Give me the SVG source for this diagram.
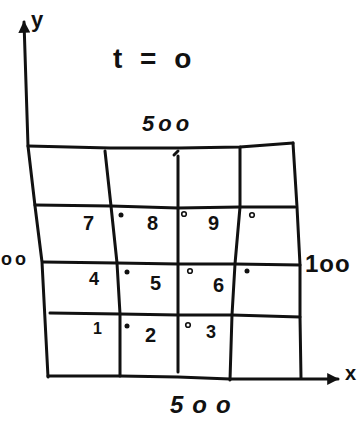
<svg xmlns="http://www.w3.org/2000/svg" width="363" height="423" viewBox="0 0 363 423">
<style>
.ln{fill:none;stroke:#111;stroke-width:3;stroke-linecap:round;stroke-linejoin:round}
.t{font-family:"Liberation Sans",Arial,sans-serif;fill:#111;font-weight:bold}
.dot{fill:#111}
.od{fill:none;stroke:#111;stroke-width:1.6}
</style>
<defs>
<marker id="ah" viewBox="0 0 10 10" refX="9" refY="5" markerWidth="4" markerHeight="4" orient="auto" markerUnits="strokeWidth">
<path d="M0,0 L10,5 L0,10 z" fill="#111"/>
</marker>
</defs>
<rect width="363" height="423" fill="#fff"/>
<g id="axes">
<path class="ln" d="M48,377 L42,262 L35,206 L28,146 L24,22" marker-end="url(#ah)"/>
<path class="ln" d="M48,376 L120,376 L178,377 L230,379 L300,379 L338,379" marker-end="url(#ah)"/>
</g>
<g id="grid">
<path class="ln" d="M28,146 L110,148 L180,148 L240,147 L293,143"/>
<path class="ln" d="M35,205 L111,206 L178,208 L240,207 L295,207"/>
<path class="ln" d="M43,262 L117,263 L178,264 L235,264 L300,265"/>
<path class="ln" d="M50,313 L120,314 L178,315 L232,315 L300,317"/>
<path class="ln" d="M293,143 L297,207 L300,265 L300,317 L301,378"/>
<path class="ln" d="M105,151 L111,206 L117,263 L120,314 L120,376"/>
<path class="ln" d="M178,156 L178,208 L178,264 L178,315 L178,372"/>
<path class="ln" d="M174,155 L178,151"/>
<path class="ln" d="M240,147 L240,207 L235,264 L232,315 L230,380"/>
</g>
<g id="labels">
<text class="t" x="31" y="27" font-size="22">y</text>
<text class="t" x="345" y="380" font-size="20">x</text>
<text class="t" x="113" y="68" font-size="28" font-weight="normal" letter-spacing="5">t = o</text>
<text class="t" x="142" y="131" font-size="22" font-style="italic" letter-spacing="4">5oo</text>
<text class="t" x="170" y="413" font-size="24" font-style="italic" letter-spacing="9">5oo</text>
<text class="t" x="305" y="272" font-size="24" font-weight="normal" letter-spacing="1">1oo</text>
<text class="t" x="1" y="265" font-size="18" letter-spacing="3">oo</text>
</g>
<g id="cells">
<text class="t" x="83" y="230" font-size="20">7</text>
<text class="t" x="147" y="230" font-size="20">8</text>
<text class="t" x="208" y="230" font-size="20">9</text>
<text class="t" x="89" y="285" font-size="18">4</text>
<text class="t" x="150" y="290" font-size="20">5</text>
<text class="t" x="213" y="292" font-size="20">6</text>
<text class="t" x="93" y="334" font-size="16">1</text>
<text class="t" x="145" y="342" font-size="20">2</text>
<text class="t" x="206" y="338" font-size="18">3</text>
<circle class="dot" cx="121" cy="215" r="2.5"/>
<circle class="od" cx="184" cy="214" r="2.3"/>
<circle class="od" cx="252" cy="215" r="2.3"/>
<circle class="dot" cx="127" cy="272" r="2.5"/>
<circle class="od" cx="190" cy="271" r="2.3"/>
<circle class="dot" cx="247" cy="271" r="2.5"/>
<circle class="dot" cx="127" cy="326" r="2.5"/>
<circle class="od" cx="188" cy="325" r="2.3"/>
</g>
</svg>
